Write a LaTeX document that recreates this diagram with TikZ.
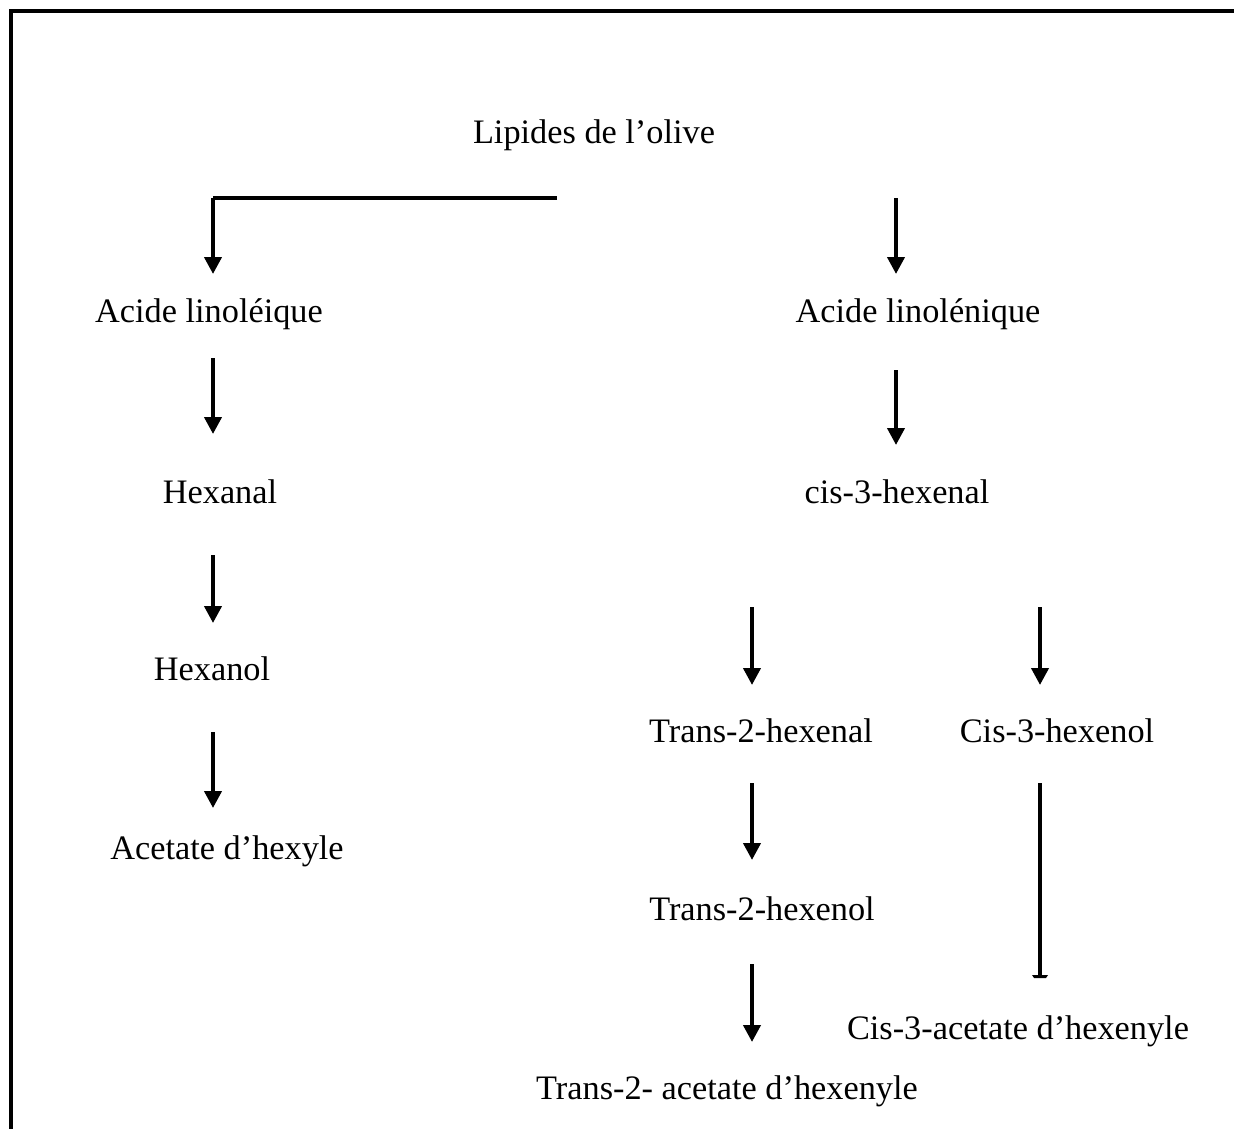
\documentclass[tikz,border=0pt]{standalone}
\usepackage{fontspec}
\setmainfont{Liberation Serif}
\usetikzlibrary{arrows.meta}
\begin{document}
\begin{tikzpicture}[x=1pt,y=-1pt,
  lbl/.style={inner sep=0pt,anchor=base,font=\fontsize{34.3}{40}\selectfont},
  arr/.style={line width=4pt,-{Triangle[width=17pt,length=17pt]}},
  ln/.style={line width=4pt}]
\useasboundingbox (0,0) rectangle (1234,1128);
\draw[ln] (11,1130) -- (11,11) -- (1236,11);
% texts
\node[lbl] (lip) at (594,143) {Lipides de l’olive};
\node[lbl] (ali) at (209,322) {Acide linoléique};
\node[lbl] (aln) at (918,322) {Acide linolénique};
\node[lbl] (hxa) at (220,503) {Hexanal};
\node[lbl] (c3a) at (897,503) {cis-3-hexenal};
\node[lbl] (hxo) at (212,680) {Hexanol};
\node[lbl] (t2a) at (761,742) {Trans-2-hexenal};
\node[lbl] (c3o) at (1057,742) {Cis-3-hexenol};
\node[lbl] (ach) at (227,859) {Acetate d’hexyle};
\node[lbl] (t2o) at (762,920) {Trans-2-hexenol};
\node[lbl] (c3ac) at (1018,1039) {Cis-3-acetate d’hexenyle};
\node[lbl] (t2ac) at (727,1099) {Trans-2- acetate d’hexenyle};
% connector coordinates
\coordinate (h1) at (557,198);
\coordinate (h2) at (213,198);
\coordinate (e1) at (213,274);
\coordinate (s2) at (896,198); \coordinate (e2) at (896,274);
\coordinate (s3) at (213,358); \coordinate (e3) at (213,434);
\coordinate (s4) at (213,555); \coordinate (e4) at (213,623);
\coordinate (s5) at (213,732); \coordinate (e5) at (213,808);
\coordinate (s6) at (896,370); \coordinate (e6) at (896,445);
\coordinate (s7) at (752,607); \coordinate (e7) at (752,685);
\coordinate (s8) at (1040,607); \coordinate (e8) at (1040,685);
\coordinate (s9) at (752,783); \coordinate (e9) at (752,860);
\coordinate (s10) at (752,964); \coordinate (e10) at (752,1042);
\coordinate (s11) at (1040,783); \coordinate (e11) at (1040,975);
% connectors
\draw[ln] (h1) -- (h2) -- ++(0,0);
\draw[arr] (h2) -- (e1);
\draw[arr] (s2) -- (e2);
\draw[arr] (s3) -- (e3);
\draw[arr] (s4) -- (e4);
\draw[arr] (s5) -- (e5);
\draw[arr] (s6) -- (e6);
\draw[arr] (s7) -- (e7);
\draw[arr] (s8) -- (e8);
\draw[arr] (s9) -- (e9);
\draw[arr] (s10) -- (e10);
\draw[ln] (s11) -- (e11);
\fill ([xshift=-8pt]e11) -- ([xshift=8pt]e11) -- ([xshift=6pt,yshift=-3pt]e11) -- ([xshift=-6pt,yshift=-3pt]e11) -- cycle;
\end{tikzpicture}
\end{document}
